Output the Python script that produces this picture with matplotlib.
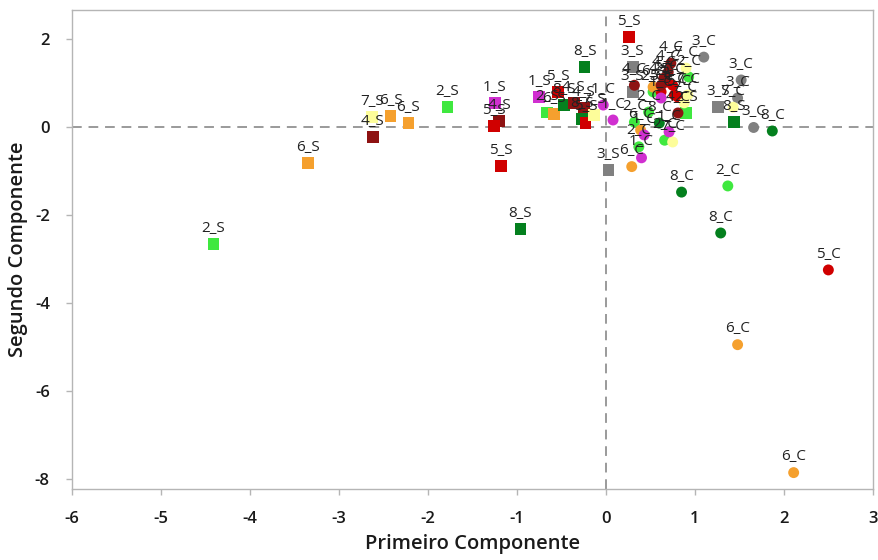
import matplotlib
matplotlib.use("Agg")
import matplotlib.pyplot as plt

plt.rcParams['font.family'] = ['Open Sans', 'DejaVu Sans']
plt.rcParams['axes.unicode_minus'] = False

# Sample labels and their scores on the first two principal components
labels = [
    # _S samples
    "2_S", "6_S", "4_S", "7_S", "6_S", "6_S", "2_S",
    "1_S", "4_S", "5_S", "5_S", "8_S", "8_S", "5_S",
    "1_S", "5_S", "2_S", "6_S", "8_S", "4_S", "4_S",
    "8_S", "5_S", "7_S", "3_S", "3_S", "3_S", "3_S",
    "8_S", "2_S",
    # _C samples
    "3_C", "3_C", "3_C", "3_C",
    "8_C", "8_C", "8_C", "1_C", "8_C",
    "2_C", "2_C", "2_C", "2_C", "2_C", "2_C", "2_C",
    "5_C", "5_C", "5_C", "5_C", "5_C", "5_C",
    "6_C", "6_C", "6_C", "6_C", "6_C",
    "7_C", "7_C", "7_C", "7_C", "7_C",
    "4_C", "4_C", "4_C", "4_C", "4_C", "4_C",
    "1_C", "1_C", "1_C", "1_C", "1_C",
]
pc1 = [
    -4.41, -3.35, -2.62, -2.63, -2.42, -2.22, -1.78,
    -1.25, -1.20, -1.26, -1.18, -0.96, -0.24, 0.26,
    -0.75, -0.54, -0.66, -0.58, -0.47, -0.36, -0.25,
    -0.27, -0.23, -0.13, 0.30, 0.30, 0.03, 1.26,
    1.44, 0.90,
    1.10, 1.52, 1.48, 1.66,
    1.87, 0.85, 1.29, -0.03, 0.60,
    1.37, 0.37, 0.66, 0.32, 0.48, 0.93, 0.53,
    2.50, 0.62, 0.77, 0.81, 0.75, 0.68,
    1.48, 2.11, 0.29, 0.39, 0.53,
    1.43, 0.90, 0.92, 0.75, 0.88,
    0.73, 0.65, 0.62, 0.32, 0.81, 0.70,
    0.08, 0.43, 0.71, 0.40, 0.62,
]
pc2 = [
    -2.66, -0.82, -0.23, 0.23, 0.25, 0.09, 0.45,
    0.55, 0.14, 0.02, -0.89, -2.32, 1.36, 2.05,
    0.68, 0.80, 0.33, 0.30, 0.50, 0.55, 0.43,
    0.18, 0.10, 0.27, 1.36, 0.80, -0.98, 0.45,
    0.11, 0.32,
    1.59, 1.07, 0.66, -0.01,
    -0.09, -1.48, -2.41, 0.50, 0.09,
    -1.34, -0.45, -0.30, 0.11, 0.34, 1.14, 0.80,
    -3.25, 0.80, 0.73, 0.68, 0.95, 1.02,
    -4.95, -7.86, -0.90, -0.07, 0.91,
    0.45, 1.34, 0.73, -0.34, 0.55,
    1.45, 1.11, 0.95, 0.95, 0.32, 1.25,
    0.16, -0.18, -0.11, -0.70, 0.66,
]

group_colors = {
    "1": "#d02fd0",
    "2": "#3fe83f",
    "3": "#808080",
    "4": "#8e1212",
    "5": "#d00000",
    "6": "#f5a02e",
    "7": "#fdfd9a",
    "8": "#04801e",
}

fig = plt.figure(figsize=(8.79, 5.60), dpi=100)
ax = fig.add_axes([0.082, 0.127, 0.911, 0.855])

ax.axhline(0, color="#9a9a9a", lw=1.4, ls=(0, (5, 3.5)), zorder=1)
ax.axvline(0, color="#9a9a9a", lw=1.4, ls=(0, (5, 3.5)), zorder=1)

for lab, x, y in zip(labels, pc1, pc2):
    grp, kind = lab.split("_")
    marker = "s" if kind == "S" else "o"
    size = 72 if kind == "S" else 62
    ax.scatter(x, y, s=size, marker=marker, color=group_colors[grp],
               edgecolors="none", zorder=3)

for lab, x, y in zip(labels, pc1, pc2):
    ax.annotate(lab, (x, y), xytext=(0, 6), textcoords="offset points",
                ha="center", va="bottom", fontsize=11, color="#222222",
                zorder=4)

ax.set_xlim(-6, 3)
ax.set_ylim(-8.23, 2.66)
ax.set_xticks(range(-6, 4))
ax.set_yticks(range(-8, 3, 2))

for sp in ax.spines.values():
    sp.set_color("#b5b5b5")
    sp.set_linewidth(1.0)
ax.tick_params(axis="both", direction="out", length=4, width=1,
               color="#b5b5b5", labelsize=12, labelcolor="#1a1a1a")
ax.tick_params(axis="x", pad=12)
ax.tick_params(axis="y", pad=12)
for t in ax.get_xticklabels() + ax.get_yticklabels():
    t.set_fontweight("semibold")

ax.set_xlabel("Primeiro Componente", fontsize=14.5, color="#1a1a1a",
              fontweight="semibold", labelpad=5)
ax.set_ylabel("Segundo Componente", fontsize=14.5, color="#1a1a1a",
              fontweight="semibold", labelpad=5)

fig.savefig("out.png", dpi=100)
